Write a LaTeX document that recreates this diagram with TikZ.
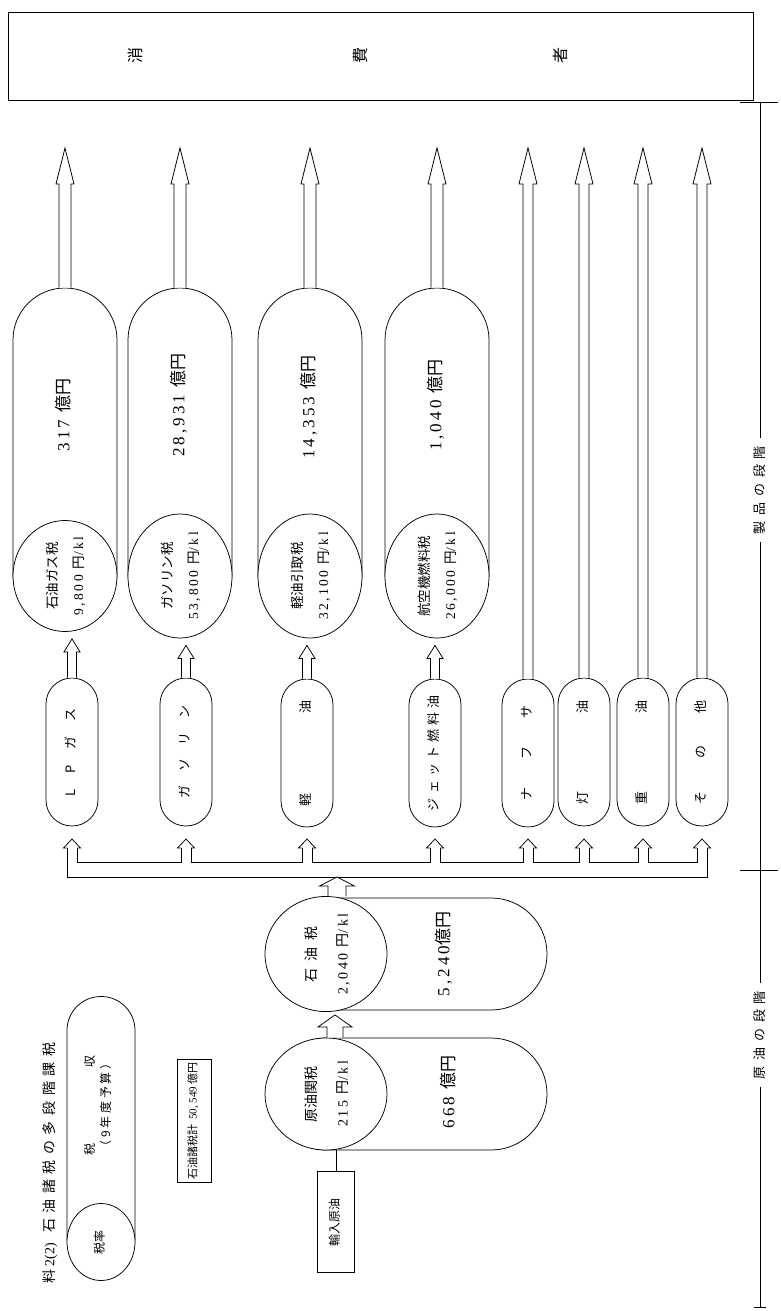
\documentclass[tikz,border=0pt]{standalone}
\usepackage{fontspec}
\setmainfont{Liberation Serif}
\newfontfamily\jp{Noto Sans CJK JP}
\newfontfamily\numfont[LetterSpace=18]{Liberation Serif}
\usetikzlibrary{shapes.geometric,calc}

% text turned a quarter turn, reading upwards
\newcommand\vtext[1]{\rotatebox{90}{\begin{tabular}{@{}c@{}}#1\end{tabular}}}
% hollow arrow pointing up: start, tip, shaft width, head width, head length
\newcommand\hollowup[5]{%
  \draw[fill=white] let \p1=(#1), \p2=(#2) in
    ({\x2-#3/2},\y1) -- ({\x2-#3/2},{\y2-#5}) -- ({\x2-#4/2},{\y2-#5}) -- (\x2,\y2)
    -- ({\x2+#4/2},{\y2-#5}) -- ({\x2+#3/2},{\y2-#5}) -- ({\x2+#3/2},\y1);}
% only the head: tip, shaft width, head width, head length
\newcommand\hollowhead[4]{%
  \draw[fill=white] let \p1=(#1) in
    ({\x1-#2/2},{\y1-#4}) -- ({\x1-#3/2},{\y1-#4}) -- (\x1,\y1)
    -- ({\x1+#3/2},{\y1-#4}) -- ({\x1+#2/2},{\y1-#4});}

\begin{document}
\begin{tikzpicture}[x=1pt,y=-1pt,line width=0.75pt,
    every node/.style={inner sep=0pt},
    consumerbox/.style={draw, minimum width=745pt, minimum height=88pt},
    taxpill/.style={draw, rounded corners=51.9pt, minimum width=104pt, minimum height=338pt},
    taxring/.style={draw, fill=white, ellipse, minimum width=104pt, minimum height=110pt,
      font=\fontsize{13.5pt}{26pt}\selectfont},
    flatpill/.style={draw, rounded corners=55.9pt, minimum width=277pt, minimum height=112pt},
    flatring/.style={draw, fill=white, ellipse, minimum width=122pt, minimum height=112pt,
      font=\fontsize{14pt}{31pt}\selectfont},
    product/.style={draw, rounded corners=25.9pt, minimum width=52pt, minimum height=148pt,
      font=\jp\fontsize{13pt}{15pt}\selectfont},
    amount/.style={font=\fontsize{17pt}{19pt}\selectfont},
    plainbox/.style={draw, font=\jp\fontsize{12pt}{14pt}\selectfont},
    stage/.style={font=\jp\fontsize{13pt}{15pt}\selectfont, inner ysep=8pt}]
  \useasboundingbox (0,0) rectangle (780,1311);

  % consumers
  \node[consumerbox] (consumer) at (380.5,56) {};
  \foreach \ch/\x in {消/135,費/360,者/560}
    \node[rotate=90, font=\jp\fontsize{16pt}{18pt}\selectfont] at (\x,56) {\ch};
  \coordinate (tipline) at (0,148);

  % taxes at the product stage
  \node[taxpill] (gaspill) at (65,457) {};
  \node[taxpill] (petrolpill) at (180,457) {};
  \node[taxpill] (dieselpill) at (310,457) {};
  \node[taxpill] (jetpill) at (437,457) {};
  \node[amount] at (65,415) {\vtext{\numfont 3\,1\,7 {\jp 億円}}};
  \node[amount] at (180,405) {\vtext{\numfont 28,931 {\jp 億円}}};
  \node[amount] at (310,407) {\vtext{\numfont 14,353 {\jp 億円}}};
  \node[amount] at (437,405) {\vtext{\numfont 1,040 {\jp 億円}}};
  \node[taxring] (gasring) at (65,576) {\vtext{{\jp 石油ガス税}\\ \numfont 9,800 {\jp 円}/kl}};
  \node[taxring] (petrolring) at (180,576) {\vtext{{\jp ガソリン税}\\ \numfont 53,800 {\jp 円}/kl}};
  \node[taxring] (dieselring) at (310,576) {\vtext{{\jp 軽油引取税}\\ \numfont 32,100 {\jp 円}/kl}};
  \node[taxring] (jetring) at (437,576) {\vtext{{\jp 航空機燃料税}\\ \numfont 26,000 {\jp 円}/kl}};

  % products
  \node[product] (lpg) at (72,752) {\vtext{\makebox[88pt][s]{L P ガ ス}}};
  \node[product] (petrol) at (186,752) {\vtext{\makebox[93pt][s]{ガ ソ リ ン}}};
  \node[product] (diesel) at (307,753) {\vtext{\makebox[106pt][s]{軽 油}}};
  \node[product] (jet) at (435,753) {\vtext{\makebox[116pt][s]{ジ ェ ッ ト 燃 料 油}}};
  \node[product] (naphtha) at (528,753) {\vtext{\makebox[95pt][s]{ナ フ サ}}};
  \node[product] (kerosene) at (584,752) {\vtext{\makebox[104pt][s]{灯 油}}};
  \node[product] (heavy) at (643,752) {\vtext{\makebox[104pt][s]{重 油}}};
  \node[product] (others) at (702,752) {\vtext{\makebox[104pt][s]{そ の 他}}};

  % product -> tax
  \hollowup{lpg.north}{$(lpg.north |- gasring.south)+(0,7)$}{9pt}{16pt}{13pt}
  \hollowup{petrol.north}{$(petrol.north |- petrolring.south)+(0,7)$}{9pt}{16pt}{13pt}
  \hollowup{diesel.north}{$(diesel.north |- dieselring.south)+(0,7)$}{9pt}{16pt}{13pt}
  \hollowup{jet.north}{$(jet.north |- jetring.south)+(0,7)$}{9pt}{16pt}{13pt}

  % to the consumers
  \hollowup{gaspill.north}{gaspill.north |- tipline}{12pt}{18pt}{36pt}
  \hollowup{petrolpill.north}{petrolpill.north |- tipline}{12pt}{18pt}{36pt}
  \hollowup{dieselpill.north}{dieselpill.north |- tipline}{12pt}{18pt}{36pt}
  \hollowup{jetpill.north}{jetpill.north |- tipline}{12pt}{18pt}{36pt}
  \hollowup{naphtha.north}{naphtha.north |- tipline}{10pt}{18pt}{36pt}
  \hollowup{kerosene.north}{kerosene.north |- tipline}{10pt}{18pt}{36pt}
  \hollowup{heavy.north}{heavy.north |- tipline}{10pt}{18pt}{36pt}
  \hollowup{others.north}{others.north |- tipline}{10pt}{18pt}{36pt}

  % distributing pipe below the products
  \coordinate (pipetop) at (0,862);
  \coordinate (pipebot) at (0,877);
  \coordinate (headbase) at (0,848);
  \draw ($(lpg.south |- headbase)+(-5,0)$) |- ($(others.south |- pipebot)+(5,0)$)
    -- ($(others.south |- headbase)+(5,0)$);
  \foreach \a/\b in {lpg/petrol,petrol/diesel,diesel/jet,jet/naphtha,naphtha/kerosene,kerosene/heavy,heavy/others}
    \draw ($(\a.south |- headbase)+(5,0)$) |- ($(\b.south |- pipetop)+(-5,0)$)
      -- ($(\b.south |- headbase)+(-5,0)$);
  \foreach \nm in {lpg,petrol,diesel,jet,naphtha,kerosene,heavy,others}{
    \hollowhead{$(\nm.south |- headbase)+(0,-9)$}{10pt}{17pt}{9pt}
  }

  % crude oil stage
  \node[flatpill] (oilpill) at (408.5,954) {};
  \node[flatpill] (crudepill) at (408.5,1094) {};
  \node[amount] at (445,954) {\vtext{\numfont 5,240{\jp 億円}}};
  \node[amount] at (450,1092) {\vtext{\numfont 668 {\jp 億円}}};
  \node[flatring] (oilring) at (326,954) {\vtext{{\jp 石\hspace{7pt}油\hspace{7pt}税}\\ \numfont 2,040 {\jp 円}/kl}};
  \node[flatring] (crudering) at (326,1094) {\vtext{{\jp 原油関税}\\ \numfont 215 {\jp 円}/kl}};
  \hollowup{$(oilring.north)+(11,0)$}{$(oilring.north |- pipebot)+(11,0)$}{18pt}{35pt}{9pt}
  \hollowup{$(crudering.north)+(9,0)$}{$(crudering.north |- oilring.south)+(9,3)$}{16pt}{34pt}{12pt}
  \node[plainbox, minimum width=37pt, minimum height=101pt] (import) at (336,1222) {\vtext{輸入原油}};
  \draw (import.north) -- (import.north |- crudering.south);

  % key and total
  \node[draw, rounded corners=33.9pt, minimum width=68pt, minimum height=275pt] (keypill) at (101,1134) {};
  \node[draw, fill=white, ellipse, minimum width=68pt, minimum height=77pt,
    font=\jp\fontsize{12pt}{14pt}\selectfont] (keyring) at (101,1242) {\vtext{税率}};
  \node[font=\jp\fontsize{12pt}{16pt}\selectfont] (keytext) at (99,1105)
    {\vtext{\makebox[100pt][s]{税 収}\\ \makebox[95pt][s]{（ 9 年 度 予 算 ）}}};
  \node[plainbox, font=\jp\fontsize{11pt}{13pt}\selectfont, minimum width=34pt, minimum height=123pt] (total)
    at (194,1121) {\vtext{石油諸税計\hspace{5pt}{\rmfamily 50, 549} 億円}};
  \node[font=\jp\fontsize{14pt}{16pt}\selectfont] (title) at (50,1163)
    {\rotatebox{90}{料 {\rmfamily 2(2)}\hspace{10pt}\makebox[190pt][s]{石 油 諸 税 の 多 段 階 課 税}}};

  % stage brackets
  \node[stage] (prodstage) at (760,490) {\rotatebox{90}{\makebox[88pt][s]{製 品 の 段 階}}};
  \node[stage] (crudestage) at (760,1035) {\rotatebox{90}{\makebox[88pt][s]{原 油 の 段 階}}};
  \coordinate (stagetop) at (760,102);
  \coordinate (stagecut) at (760,870);
  \coordinate (stageend) at (760,1307);
  \draw ($(stagetop)+(-20,0)$) -- ($(stagetop)+(18,0)$);
  \draw (stagetop) -- (prodstage.north);
  \draw (prodstage.south) -- (stagecut) -- (crudestage.north);
  \draw ($(stagecut)+(-20,0)$) -- ($(stagecut)+(18,0)$);
  \draw (crudestage.south) -- (stageend);
  \draw ($(stageend)+(-6,0)$) -- ($(stageend)+(6,0)$);
\end{tikzpicture}
\end{document}
